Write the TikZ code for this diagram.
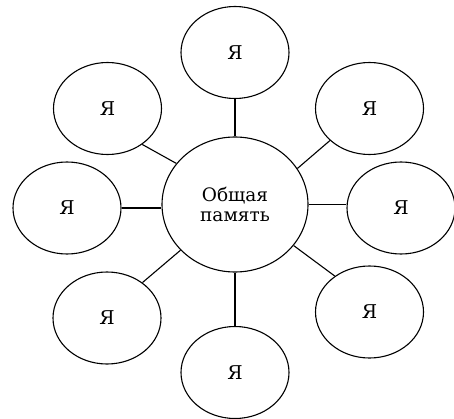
\documentclass[tikz,border=0pt]{standalone}
\usepackage{fontspec}
\setmainfont{DejaVu Serif}
\usepackage{tikz}
\usetikzlibrary{calc, shapes.geometric}

\begin{document}
\begin{tikzpicture}[x = 1pt, y = 1pt, line width = 1.1pt,
		self ellipse/.style = {draw, ellipse, inner sep = 0, minimum width = \selfW, minimum height = \selfH, font = \fontsize{19}{21}\selectfont},
		memory ellipse/.style = {draw, ellipse, inner sep = 0, minimum width = \memW, minimum height = \memH, align = center, font = \fontsize{18.5}{20.5}\selectfont}]
		\def\selfW{108};
		\def\selfH{92};
		\def\memW{146};
		\def\memH{135};
		
		\useasboundingbox (0,0) rectangle (454,418);
		
		\coordinate(memory centre) at (235,213.5);
		
		\node [memory ellipse] (memory) at (memory centre) {Общая\\память};
		
		\node [self ellipse] (self top) at ($ (memory centre) + (0,152) $) {Я};
		\node [self ellipse] (self top left) at ($ (memory centre) + (-127.5,96) $) {Я};
		\node [self ellipse] (self top right) at ($ (memory centre) + (134.5,96) $) {Я};
		\node [self ellipse] (self left) at ($ (memory centre) + (-168,-3.5) $) {Я};
		\node [self ellipse] (self right) at ($ (memory centre) + (166,-3.5) $) {Я};
		\node [self ellipse] (self bottom left) at ($ (memory centre) + (-128,-113.5) $) {Я};
		\node [self ellipse] (self bottom right) at ($ (memory centre) + (134.5,-107.5) $) {Я};
		\node [self ellipse] (self bottom) at ($ (memory centre) + (0,-168) $) {Я};
		
		\draw (memory.north) -- (self top.south);
		\draw (memory.145) -- (self top left.-46);
		\draw (memory.30) -- (self top right.-141);
		\draw (self left.east) -- (self left.east -| memory.west);
		\draw (memory.east) -- (memory.east -| self right.west);
		\draw (memory.220) -- (self bottom left.45);
		\draw (memory.-35) -- (self bottom right.134);
		\draw (memory.south) -- (self bottom.north);
	\end{tikzpicture}
\end{document}
